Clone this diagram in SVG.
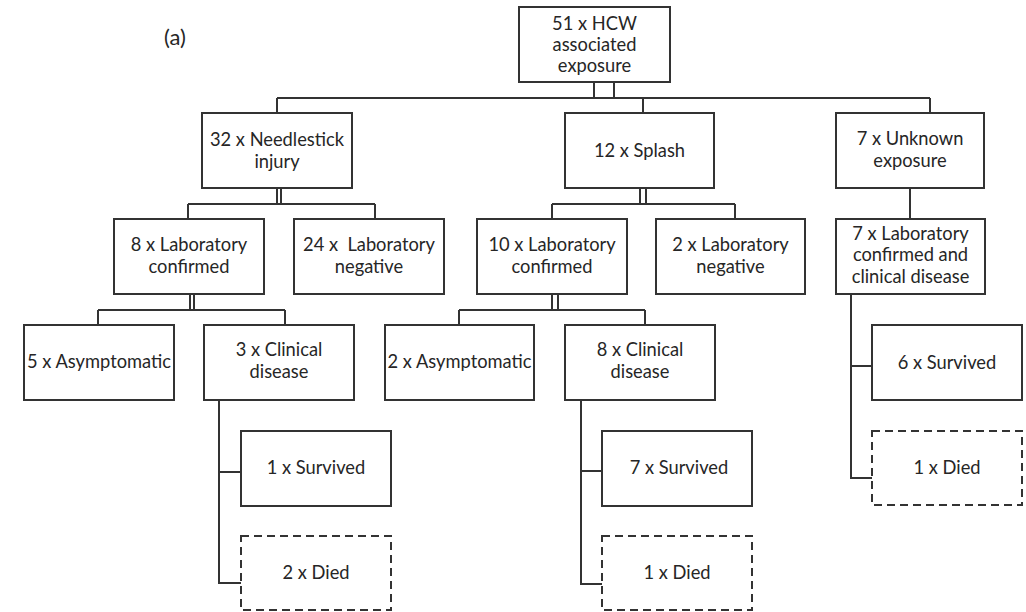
<svg xmlns="http://www.w3.org/2000/svg" width="1026" height="612" viewBox="0 0 1026 612">
<style>
.box{fill:#fff;stroke:#333;stroke-width:2}
.dash{fill:#fff;stroke:#333;stroke-width:2;stroke-dasharray:8,5}
.c{fill:none;stroke:#333;stroke-width:2}
text{font-family:Lato,"Liberation Sans",sans-serif;font-size:18.3px;fill:#262626;text-anchor:middle}
</style>
<rect width="1026" height="612" fill="#fff"/>
<text x="175" y="45" style="font-size:22px">(a)</text>
<g id="connectors">
<path class="c" d="M594 82V98M614 82V98M277 98H930M277 98V113M643 98V113M930 98V113"/>
<path class="c" d="M277 188V204M281 188V204M188 204H375M188 204V219M375 204V219"/>
<path class="c" d="M640 188V204M646 188V204M552 204H735M552 204V219M735 204V219"/>
<path class="c" d="M910 188V219"/>
<path class="c" d="M190 294V310M194 294V310M98 310H285M98 310V325M285 310V325"/>
<path class="c" d="M552 294V310M558 294V310M459 310H645M459 310V325M645 310V325"/>
<path class="c" d="M851 294V478H872M851 366H872"/>
<path class="c" d="M219 400V583H241M219 472H241"/>
<path class="c" d="M581 400V584H602M581 471H602"/>
</g>
<g id="root"><rect class="box" x="519" y="7" width="151" height="75"/><text x="594.5" y="30">51 x HCW</text><text x="594.5" y="51">associated</text><text x="594.5" y="72">exposure</text></g>
<g id="needlestick"><rect class="box" x="202" y="113" width="150" height="75"/><text x="277" y="146">32 x Needlestick</text><text x="277" y="168">injury</text></g>
<g id="splash"><rect class="box" x="565" y="113" width="149" height="75"/><text x="639.5" y="157">12 x Splash</text></g>
<g id="unknown"><rect class="box" x="836" y="113" width="148" height="75"/><text x="910" y="145">7 x Unknown</text><text x="910" y="167">exposure</text></g>
<g id="n-lab-conf"><rect class="box" x="114" y="219" width="150" height="75"/><text x="189" y="251">8 x Laboratory</text><text x="189" y="273">confirmed</text></g>
<g id="n-lab-neg"><rect class="box" x="294" y="219" width="150" height="75"/><text x="369" y="251" xml:space="preserve">24 x  Laboratory</text><text x="369" y="273">negative</text></g>
<g id="s-lab-conf"><rect class="box" x="477" y="219" width="150" height="75"/><text x="552" y="251">10 x Laboratory</text><text x="552" y="273">confirmed</text></g>
<g id="s-lab-neg"><rect class="box" x="656" y="219" width="149" height="75"/><text x="730.5" y="251">2 x Laboratory</text><text x="730.5" y="273">negative</text></g>
<g id="u-lab-conf"><rect class="box" x="836" y="219" width="149" height="75"/><text x="910.5" y="240">7 x Laboratory</text><text x="910.5" y="261">confirmed and</text><text x="910.5" y="283">clinical disease</text></g>
<g id="n-asym"><rect class="box" x="24" y="325" width="150" height="75"/><text x="99" y="368">5 x Asymptomatic</text></g>
<g id="n-clin"><rect class="box" x="204" y="325" width="150" height="75"/><text x="279" y="356">3 x Clinical</text><text x="279" y="378">disease</text></g>
<g id="s-asym"><rect class="box" x="385" y="325" width="149" height="75"/><text x="459.5" y="368">2 x Asymptomatic</text></g>
<g id="s-clin"><rect class="box" x="565" y="325" width="150" height="75"/><text x="640" y="356">8 x Clinical</text><text x="640" y="378">disease</text></g>
<g id="u-surv"><rect class="box" x="872" y="325" width="150" height="75"/><text x="947" y="369">6 x Survived</text></g>
<g id="n-surv"><rect class="box" x="241" y="431" width="150" height="75"/><text x="316" y="474">1 x Survived</text></g>
<g id="s-surv"><rect class="box" x="602" y="431" width="150" height="75"/><text x="679" y="474">7 x Survived</text></g>
<g id="u-died"><rect class="dash" x="872" y="431" width="150" height="74"/><text x="947" y="474">1 x Died</text></g>
<g id="n-died"><rect class="dash" x="241" y="536" width="150" height="74"/><text x="316" y="579">2 x Died</text></g>
<g id="s-died"><rect class="dash" x="602" y="536" width="150" height="74"/><text x="677" y="579">1 x Died</text></g>
</svg>
